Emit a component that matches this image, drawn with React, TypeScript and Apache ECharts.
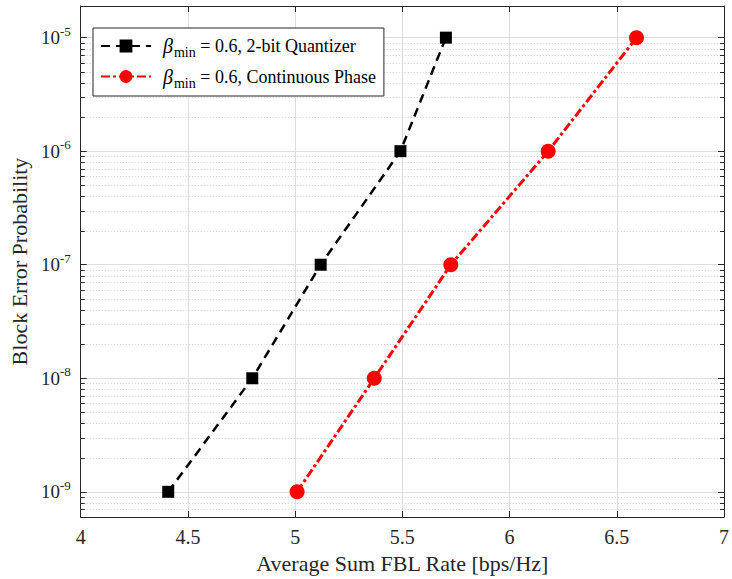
import React, { useEffect, useRef } from 'react';
import * as echarts from 'echarts';

// Data
const quantRate = [4.408, 4.8, 5.119, 5.491, 5.703];
const quantBler = [1e-9, 1e-8, 1e-7, 1e-6, 1e-5];
const contRate = [5.009, 5.369, 5.726, 6.18, 6.592];
const contBler = [1e-9, 1e-8, 1e-7, 1e-6, 1e-5];
const seriesKeys = ['quant', 'cont'];
const seriesTexts = [' = 0.6, 2-bit Quantizer', ' = 0.6, Continuous Phase'];
const xTicks = [4, 4.5, 5, 5.5, 6, 6.5, 7];
const yDecades = [-10, -9, -8, -7, -6, -5];
const minorFactors = [2, 3, 4, 5, 6, 7, 8, 9];
const xMin = 4;
const xMax = 7;
const yMin = 6e-10;
const yMax = 1.9e-5;

const FONT = 'Liberation Serif';
const AXIS = '#262626';

export default function App() {
  const ref = useRef<HTMLDivElement>(null);
  useEffect(() => {
    if (!ref.current) return;
    const chart = echarts.init(ref.current, undefined, { renderer: 'svg' });

    const minorVals: number[] = [];
    yDecades.forEach((d) => {
      minorFactors.forEach((k) => {
        const v = k * Math.pow(10, d);
        if (v > yMin * 1.0001 && v < yMax * 0.9999) minorVals.push(v);
      });
    });

    const option: any = {
      animation: false,
      backgroundColor: '#ffffff',
      grid: { left: 80, right: 2, top: 6, bottom: 58, containLabel: false },
      legend: {
        data: seriesKeys,
        orient: 'vertical',
        left: 93,
        top: 28,
        padding: [8, 8, 6, 7],
        itemGap: 7,
        itemWidth: 50,
        itemHeight: 16,
        backgroundColor: '#ffffff',
        borderColor: AXIS,
        borderWidth: 1,
        borderRadius: 0,
        formatter: (name: string) => {
          const i = seriesKeys.indexOf(name);
          return `{beta|β}{sub|min}{t|${seriesTexts[i]}}`;
        },
        textStyle: {
          fontFamily: FONT,
          color: '#000',
          rich: {
            beta: { fontFamily: FONT, fontStyle: 'italic', fontSize: 20, color: '#000', padding: [0, 1, 0, 7] },
            sub: { fontFamily: FONT, fontSize: 14, color: '#000', padding: [13, 0, 0, 0] },
            t: { fontFamily: FONT, fontSize: 18, color: '#000' },
          },
        },
      },
      xAxis: [
        {
          type: 'value',
          min: xMin,
          max: xMax,
          interval: 0.5,
          position: 'bottom',
          name: 'Average Sum FBL Rate [bps/Hz]',
          nameLocation: 'middle',
          nameGap: 35,
          nameTextStyle: { fontFamily: FONT, fontSize: 22, color: AXIS },
          axisLine: { show: true, onZero: false, lineStyle: { color: AXIS, width: 1 } },
          axisTick: { show: true, inside: true, length: 6, lineStyle: { color: AXIS } },
          axisLabel: {
            margin: 10,
            fontFamily: FONT,
            fontSize: 20,
            color: AXIS,
            formatter: (v: number) => (xTicks.includes(v) ? String(v) : ''),
          },
          splitLine: { show: true, lineStyle: { color: '#dedede', width: 1 } },
        },
        {
          type: 'value',
          min: xMin,
          max: xMax,
          interval: 0.5,
          position: 'top',
          axisLine: { show: true, onZero: false, lineStyle: { color: AXIS, width: 1 } },
          axisTick: { show: true, inside: true, length: 6, lineStyle: { color: AXIS } },
          axisLabel: { show: false },
          splitLine: { show: false },
        },
      ],
      yAxis: [
        {
          type: 'log',
          logBase: 10,
          min: yMin,
          max: yMax,
          position: 'left',
          name: 'Block Error Probability',
          nameLocation: 'middle',
          nameGap: 48,
          nameTextStyle: { fontFamily: FONT, fontSize: 22, color: AXIS },
          axisLine: { show: true, onZero: false, lineStyle: { color: AXIS, width: 1 } },
          axisTick: { show: true, inside: true, length: 6, lineStyle: { color: AXIS } },
          axisLabel: {
            margin: 10,
            fontFamily: FONT,
            color: AXIS,
            formatter: (v: number) => {
              const l = Math.log10(v);
              const e = Math.round(l);
              if (Math.abs(l - e) > 1e-6) return '';
              return `{b|10}{s|${e}}`;
            },
            rich: {
              b: { fontFamily: FONT, fontSize: 19, color: AXIS },
              s: { fontFamily: FONT, fontSize: 13, color: AXIS, padding: [0, 0, 13, 0] },
            },
          },
          splitLine: { show: true, lineStyle: { color: '#dedede', width: 1 } },
        },
        {
          type: 'log',
          logBase: 10,
          min: yMin,
          max: yMax,
          position: 'right',
          axisLine: { show: true, onZero: false, lineStyle: { color: AXIS, width: 1 } },
          axisTick: { show: true, inside: true, length: 6, lineStyle: { color: AXIS } },
          axisLabel: { show: false },
          splitLine: { show: false },
        },
      ],
      series: [
        {
          name: '__minor',
          type: 'custom',
          xAxisIndex: 0,
          yAxisIndex: 0,
          silent: true,
          z: 1,
          encode: { x: 0, y: 1 },
          data: minorVals.map((v) => [xMin, v]),
          renderItem: (params: any, api: any) => {
            const p = api.coord([api.value(0), api.value(1)]);
            const cs = params.coordSys;
            const y = Math.round(p[1]) + 0.5;
            return {
              type: 'group',
              children: [
                {
                  type: 'line',
                  shape: { x1: cs.x, y1: y, x2: cs.x + cs.width, y2: y },
                  style: { stroke: '#cfcfcf', lineWidth: 1, lineDash: [1, 2] },
                },
                {
                  type: 'line',
                  shape: { x1: cs.x, y1: y, x2: cs.x + 4, y2: y },
                  style: { stroke: AXIS, lineWidth: 1 },
                },
                {
                  type: 'line',
                  shape: { x1: cs.x + cs.width - 4, y1: y, x2: cs.x + cs.width, y2: y },
                  style: { stroke: AXIS, lineWidth: 1 },
                },
              ],
            };
          },
        },
        {
          name: seriesKeys[0],
          type: 'line',
          xAxisIndex: 0,
          yAxisIndex: 0,
          data: quantRate.map((x, i) => [x, quantBler[i]]),
          symbol: 'rect',
          symbolSize: 12,
          itemStyle: { color: '#000000' },
          lineStyle: { color: '#000000', width: 2.5, type: [9, 6] },
          z: 5,
        },
        {
          name: seriesKeys[1],
          type: 'line',
          xAxisIndex: 0,
          yAxisIndex: 0,
          data: contRate.map((x, i) => [x, contBler[i]]),
          symbol: 'circle',
          symbolSize: 15,
          itemStyle: { color: '#ff0000' },
          lineStyle: { color: '#ff0000', width: 3, type: [9, 3, 3, 3] },
          z: 5,
        },
      ],
    };
    chart.setOption(option);
    return () => chart.dispose();
  }, []);
  return (
    <div
      ref={ref}
      style={{ position: 'fixed', left: 0, top: 0, width: 732, height: 579, background: '#fff' }}
    />
  );
}
